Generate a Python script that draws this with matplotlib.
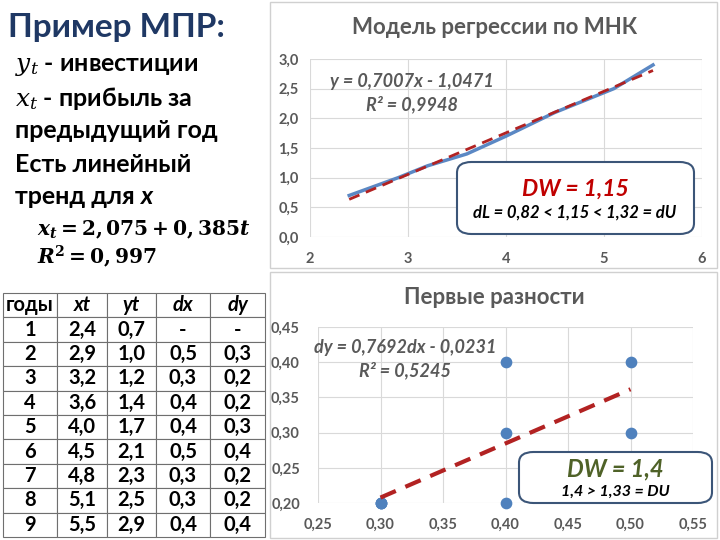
import numpy as np
import matplotlib
matplotlib.use("Agg")
from matplotlib import pyplot as plt
from matplotlib.patches import FancyBboxPatch, Rectangle
from matplotlib.ticker import FuncFormatter, MultipleLocator

years = [1, 2, 3, 4, 5, 6, 7, 8, 9]
xt = [2.4, 2.9, 3.2, 3.6, 4.0, 4.5, 4.8, 5.1, 5.5]
yt = [0.7, 1.0, 1.2, 1.4, 1.7, 2.1, 2.3, 2.5, 2.9]
dx = [0.5, 0.3, 0.4, 0.4, 0.5, 0.3, 0.3, 0.4]
dy = [0.3, 0.2, 0.2, 0.3, 0.4, 0.2, 0.2, 0.4]
headers = ['годы', 'xt', 'yt', 'dx', 'dy']

plt.rcParams['font.family'] = ['Lato', 'DejaVu Sans']
plt.rcParams['mathtext.fontset'] = 'custom'
plt.rcParams['mathtext.rm'] = 'DejaVu Serif'
plt.rcParams['mathtext.it'] = 'DejaVu Serif:italic'
plt.rcParams['mathtext.bf'] = 'DejaVu Serif:bold'
plt.rcParams['mathtext.bfit'] = 'DejaVu Serif:italic:bold'

W, H = 720, 540
fig = plt.figure(figsize=(7.2, 5.4), dpi=100)


def fx(x):
    return x / W


def fy(y):
    return 1 - y / H


def comma(fmt):
    return FuncFormatter(lambda v, p: format(v, fmt).replace('.', ','))


# left text block
navy = '#1F3864'
fig.text(fx(8), fy(28), 'Пример МПР:', fontsize=24, fontweight='bold', color=navy, va='center')
lines = [(r'$\mathit{y_t}$ - инвестиции', 66), (r'$\mathit{x_t}$ - прибыль за', 99),
         ('предыдущий год', 131), ('Есть линейный', 164)]
for s, y in lines:
    fig.text(fx(15), fy(y), s, fontsize=18, fontweight='bold', color='black', va='center')
t = fig.text(fx(15), fy(197), 'тренд для ', fontsize=18, fontweight='bold', va='center')
fig.canvas.draw()
ext = t.get_window_extent()
fig.text(ext.x1 / W, fy(197), 'x', fontsize=18, fontweight='bold', style='italic', va='center')
fig.text(fx(37), fy(230), r'$\mathbfit{x_t}\mathbf{=2,075+0,385}\mathbfit{t}$', fontsize=14.5, va='center')
fig.text(fx(37), fy(257), r'$\mathbfit{R}^\mathbf{2}\mathbf{=0,997}$', fontsize=14.5, va='center')

# table
tab_ax = fig.add_axes([fx(3), fy(537), fx(262), (537 - 293) / H])
tab_ax.axis('off')
rows = []
for i in range(len(years)):
    r = [str(years[i]), f'{xt[i]:.1f}'.replace('.', ','), f'{yt[i]:.1f}'.replace('.', ',')]
    if i == 0:
        r += ['-', '-']
    else:
        r += [f'{dx[i-1]:.1f}'.replace('.', ','), f'{dy[i-1]:.1f}'.replace('.', ',')]
    rows.append(r)
tbl = tab_ax.table(cellText=rows, colLabels=headers, bbox=[0, 0, 1, 1],
                   colWidths=[54, 50, 49, 54, 55], cellLoc='center')
tbl.auto_set_font_size(False)
for (r, c), cell in tbl.get_celld().items():
    cell.set_edgecolor('#6F6F6F')
    cell.set_linewidth(0.8)
    cell.get_text().set_fontsize(14.5)
    cell.get_text().set_fontweight('bold')
    if r == 0 and c > 0:
        cell.get_text().set_style('italic')

grey = '#595959'
grid_c = '#D9D9D9'
red = '#B22222'
blue = '#5B88C4'

# chart frames
for y0, y1 in [(2, 268), (272, 538)]:
    fig.add_artist(Rectangle((fx(270), fy(y1)), fx(447), (y1 - y0) / H,
                             transform=fig.transFigure, fill=False, edgecolor='#D0D0D0', lw=1))


def style_axes(ax):
    for s in ax.spines.values():
        s.set_visible(False)
    ax.grid(True, color=grid_c, lw=0.8)
    ax.set_axisbelow(True)
    ax.tick_params(length=0, labelsize=10.5, labelcolor=grey)
    for lab in ax.get_xticklabels() + ax.get_yticklabels():
        lab.set_fontweight('bold')


# top chart
ax1 = fig.add_axes([fx(310), fy(237), fx(702 - 310), (237 - 59) / H])
ax1.plot(xt, yt, color=blue, lw=2.5, zorder=3)
k1, b1 = np.polyfit(xt, yt, 1)
tx = np.array([min(xt), max(xt)])
ax1.plot(tx, k1 * tx + b1, color=red, lw=2, dashes=(4, 2.5), zorder=4)
ax1.set_xlim(2, 6)
ax1.set_ylim(0, 3)
ax1.xaxis.set_major_locator(MultipleLocator(1))
ax1.yaxis.set_major_locator(MultipleLocator(0.5))
ax1.xaxis.set_major_formatter(comma('.0f'))
ax1.yaxis.set_major_formatter(comma('.1f'))
ax1.tick_params(axis='x', pad=11)
ax1.tick_params(axis='y', pad=8)
style_axes(ax1)
fig.text(fx(495), fy(27), 'Модель регрессии по МНК', fontsize=16, fontweight='bold', color=grey,
         ha='center', va='center')
fig.text(fx(412), fy(81), 'y = 0,7007x - 1,0471', fontsize=13, fontweight='bold', style='italic',
         color=grey, ha='center', va='center')
fig.text(fx(412), fy(104), 'R² = 0,9948', fontsize=13, fontweight='bold', style='italic',
         color=grey, ha='center', va='center')

# bottom chart
ax2 = fig.add_axes([fx(318), fy(503), fx(693 - 318), (503 - 327) / H])
ax2.scatter(dx, dy, s=55, color='#4F81BD', zorder=3, clip_on=False)
k2, b2 = np.polyfit(dx, dy, 1)
tx2 = np.array([min(dx), max(dx)])
ax2.plot(tx2, k2 * tx2 + b2, color=red, lw=3, dashes=(4, 2.5), zorder=4)
ax2.set_xlim(0.25, 0.55)
ax2.set_ylim(0.2, 0.45)
ax2.xaxis.set_major_locator(MultipleLocator(0.05))
ax2.yaxis.set_major_locator(MultipleLocator(0.05))
ax2.xaxis.set_major_formatter(comma('.2f'))
ax2.yaxis.set_major_formatter(comma('.2f'))
ax2.tick_params(axis='x', pad=11)
ax2.tick_params(axis='y', pad=13)
style_axes(ax2)
fig.text(fx(494), fy(297), 'Первые разности', fontsize=16, fontweight='bold', color=grey,
         ha='center', va='center')
fig.text(fx(405), fy(348), 'dy = 0,7692dx - 0,0231', fontsize=13, fontweight='bold', style='italic',
         color=grey, ha='center', va='center')
fig.text(fx(405), fy(370), 'R² = 0,5245', fontsize=13, fontweight='bold', style='italic',
         color=grey, ha='center', va='center')

# DW boxes
box_edge = '#3B5578'
for (x0, y0, x1, y1) in [(457, 162, 694, 234), (519, 452, 712, 503)]:
    fig.add_artist(FancyBboxPatch((fx(x0), fy(y1)), fx(x1 - x0), (y1 - y0) / H,
                                  boxstyle='round,pad=0,rounding_size=0.02',
                                  transform=fig.transFigure, facecolor='white',
                                  edgecolor=box_edge, lw=1.5, zorder=5))
fig.text(fx(575), fy(189), 'DW = 1,15', fontsize=16.5, fontweight='bold', style='italic',
         color='#C00000', ha='center', va='center', zorder=6)
fig.text(fx(575), fy(213), 'dL = 0,82 < 1,15 < 1,32 = dU', fontsize=12, fontweight='bold',
         style='italic', color='black', ha='center', va='center', zorder=6)
fig.text(fx(615), fy(469), 'DW = 1,4', fontsize=17, fontweight='bold', style='italic',
         color='#4F6228', ha='center', va='center', zorder=6)
fig.text(fx(615), fy(492), '1,4 > 1,33 = DU', fontsize=11.5, fontweight='bold',
         style='italic', color='black', ha='center', va='center', zorder=6)

plt.savefig('out.png', dpi=100)
